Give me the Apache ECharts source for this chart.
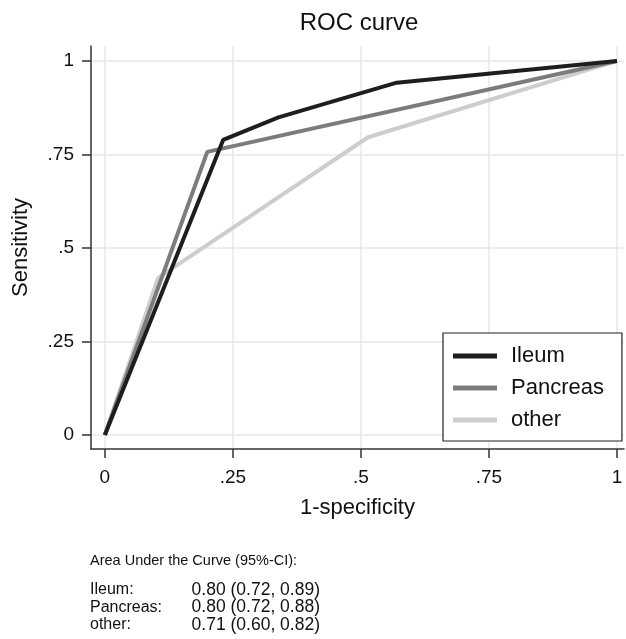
<!DOCTYPE html>
<html>
<head>
<meta charset="utf-8">
<script src="https://cdn.jsdelivr.net/npm/echarts@6/dist/echarts.min.js"></script>
<style>
  html, body { margin: 0; padding: 0; background: #fff; }
  #main { width: 626px; height: 639px; }
</style>
</head>
<body>
<div id="main"></div>
<script>
// ROC points: [1-specificity, sensitivity]
const ileum = [[0, 0], [0.231, 0.789], [0.339, 0.849], [0.570, 0.942], [1, 1]];
const pancreas = [[0, 0], [0.200, 0.757], [1, 1]];
const other = [[0, 0], [0.104, 0.420], [0.514, 0.796], [1, 1]];
const tickValues = [0, 0.25, 0.5, 0.75, 1];
const tickLabels = ['0', '.25', '.5', '.75', '1'];
const seriesNames = ['Ileum', 'Pancreas', 'other'];
const aucTitle = 'Area Under the Curve (95%-CI):';
const aucGroups = ['Ileum:', 'Pancreas:', 'other:'];
const aucValues = ['0.80 (0.72, 0.89)', '0.80 (0.72, 0.88)', '0.71 (0.60, 0.82)'];

const font = '"Liberation Sans", Arial, sans-serif';
const colors = { Ileum: '#1e1e1e', Pancreas: '#7c7c7c', other: '#cdcdcd' };

const fmt = v => {
  const i = tickValues.findIndex(t => Math.abs(t - v) < 1e-9);
  return i >= 0 ? tickLabels[i] : '';
};

const axisCommon = {
  axisLine: { show: true, onZero: false, lineStyle: { color: '#333', width: 1.5 } },
  axisTick: { show: true, length: 9, lineStyle: { color: '#333', width: 1.5 }, customValues: tickValues },
  axisLabel: { color: '#111', fontSize: 19, fontFamily: font, margin: 17, customValues: tickValues, formatter: fmt },
  splitLine: { show: true, lineStyle: { color: '#e8e8e8', width: 1.5 } },
  nameLocation: 'middle',
  nameTextStyle: { color: '#111', fontSize: 22, fontFamily: font }
};

const chart = echarts.init(document.getElementById('main'));

const mkSeries = (name, data, z) => ({
  name: name,
  type: 'line',
  data: data,
  showSymbol: false,
  symbol: 'none',
  z: z,
  lineStyle: { color: colors[name], width: 4 },
  itemStyle: { color: colors[name] },
  emphasis: { disabled: true }
});

const graphics = [
  { type: 'text', x: 359, y: 23, style: { text: 'ROC curve', font: '24px ' + font, fill: '#111', align: 'center', verticalAlign: 'middle' } },
  { type: 'text', x: 90, y: 561, style: { text: aucTitle, font: '14.5px ' + font, fill: '#111', verticalAlign: 'middle' } }
];
aucGroups.forEach((g, i) => {
  graphics.push({ type: 'text', x: 90, y: 590 + i * 17.5, style: { text: g, font: '16px ' + font, fill: '#111', verticalAlign: 'middle' } });
  graphics.push({ type: 'text', x: 320, y: 590 + i * 17.5, style: { text: aucValues[i], font: '17.5px ' + font, fill: '#111', align: 'right', verticalAlign: 'middle' } });
});

chart.setOption({
  animation: false,
  backgroundColor: '#fff',
  grid: { left: 91, right: 2, top: 46, bottom: 190, containLabel: false },
  xAxis: Object.assign({}, axisCommon, {
    type: 'value', min: -0.027, max: 1.0137,
    name: '1-specificity', nameGap: 48,
    axisLabel: Object.assign({}, axisCommon.axisLabel, { margin: 19 })
  }),
  yAxis: Object.assign({}, axisCommon, {
    type: 'value', min: -0.0374, max: 1.04,
    name: 'Sensitivity', nameGap: 59
  }),
  legend: {
    data: seriesNames,
    orient: 'vertical',
    left: 443, top: 333,
    padding: [12, 18, 10, 10],
    itemGap: 10,
    itemWidth: 44, itemHeight: 5,
    icon: 'rect',
    borderColor: '#222', borderWidth: 1.2,
    backgroundColor: '#fff',
    selectedMode: false,
    textStyle: { fontSize: 22, fontFamily: font, color: '#111', padding: [0, 0, 0, 9] }
  },
  series: [
    mkSeries('other', other, 2),
    mkSeries('Pancreas', pancreas, 3),
    mkSeries('Ileum', ileum, 4)
  ],
  graphic: graphics
});
</script>
</body>
</html>
